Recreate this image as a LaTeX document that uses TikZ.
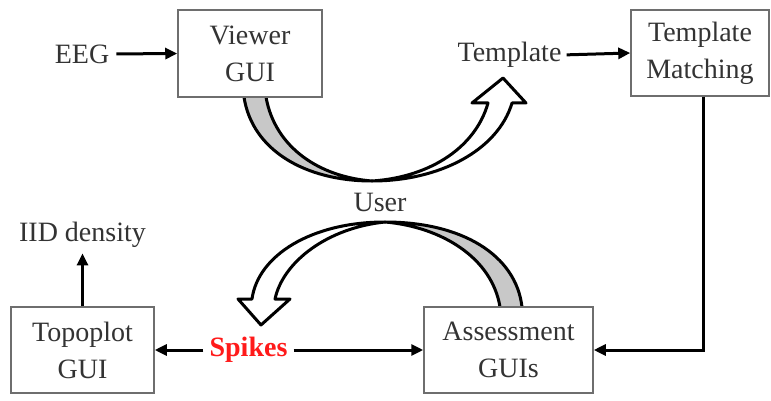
\documentclass[tikz,border=0pt]{standalone}
\usepackage{fontspec}
\setmainfont{Liberation Serif}
\usetikzlibrary{arrows.meta}
\definecolor{txt}{HTML}{333333}
\definecolor{boxc}{HTML}{6E6E6E}
\definecolor{ribbon}{HTML}{C8C8C8}
\definecolor{spk}{HTML}{FF1A1A}
\begin{document}
\begin{tikzpicture}[x=1pt,y=-1pt,
  lbl/.style={font=\fontsize{28}{37}\selectfont, text=txt, inner sep=0pt},
  blk/.style={draw=boxc, line width=1.5pt, fill=white, align=center,
    font=\fontsize{28}{37}\selectfont, text=txt, inner sep=0pt},
  arr/.style={line width=3pt, -{Triangle[length=12pt,width=11pt]}},
  rib/.style={draw=black, line width=3pt, line join=round}]
\useasboundingbox (0,0) rectangle (771,401);
\fill[white] (0,0) rectangle (771,401);
% ribbons (drawn first, boxes cover their ends)
\filldraw[rib, fill=ribbon] (244,90) -- (244,97) .. controls (252,150) and (305,181) .. (372,181)
   .. controls (320,177) and (275,148) .. (266,97) -- (266,90) -- cycle;
\filldraw[rib, fill=white] (372,181) .. controls (440,181) and (498,150) .. (512,103)
   -- (526,103) -- (503,78) -- (472,103) -- (488,103)
   .. controls (476,146) and (432,177) .. (372,181) -- cycle;
\filldraw[rib, fill=ribbon] (522,314) -- (522,307) .. controls (516,255) and (462,222) .. (385,222)
   .. controls (442,227) and (492,258) .. (500,307) -- (500,314) -- cycle;
\filldraw[rib, fill=white] (385,222) .. controls (312,222) and (258,255) .. (252,299)
   -- (238,299) -- (261,325) -- (290,299) -- (275,299)
   .. controls (283,262) and (327,228) .. (385,222) -- cycle;
% boxes
\node[blk, minimum width=144pt, minimum height=87pt] (viewer) at (250,53.5) {Viewer\\GUI};
\node[blk, minimum width=138pt, minimum height=86pt] (tm) at (700,53) {Template\\Matching};
\node[blk, minimum width=143pt, minimum height=86pt] (topo) at (82.5,350) {Topoplot\\GUI};
\node[blk, minimum width=169pt, minimum height=86pt] (ag) at (508.5,350) {Assessment\\GUIs};
% labels
\node[lbl] (eeg) at (82,54) {EEG};
\node[lbl] (tpl) at (509.5,55) {Template};
\node[lbl] (user) at (380,202) {User};
\node[lbl] (iid) at (82.5,234.5) {IID density};
\node[lbl, font=\fontsize{28}{37}\selectfont\bfseries, text=spk] (spikes) at (248.5,350) {Spikes};
% connectors
\draw[arr, shorten <=7pt] (eeg.east) -- (viewer.west);
\draw[arr, shorten <=5pt] (tpl.east) -- (tm.west);
\draw[arr] ([xshift=3pt]tm.south) |- (ag.east);
\draw[arr, shorten <=6pt] (spikes.west) -- (topo.east);
\draw[arr, shorten <=6pt] (spikes.east) -- (ag.west);
\draw[arr, shorten >=6pt] (topo.north) -- (iid.south);
\end{tikzpicture}
\end{document}
